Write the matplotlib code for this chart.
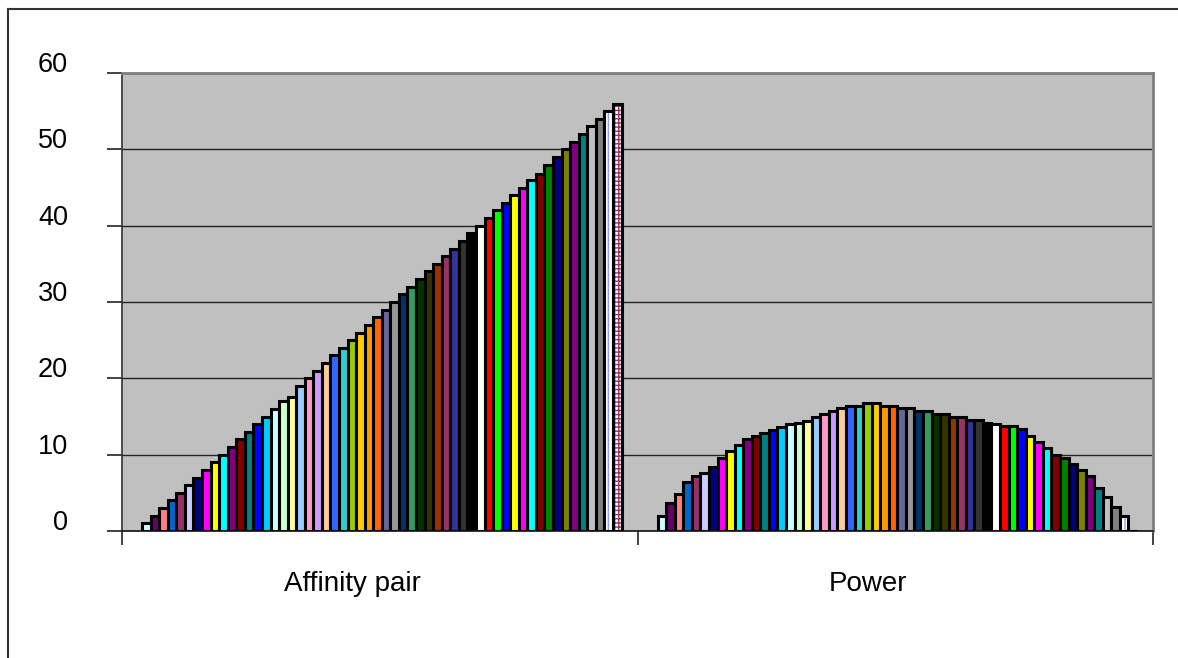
import matplotlib.pyplot as plt
import matplotlib.transforms as mtransforms
from matplotlib.lines import Line2D

plt.rcParams['font.family'] = ['Liberation Sans', 'DejaVu Sans']

# categories on the x axis
categories = ['Affinity pair', 'Power']

# one value per series for each category (56 series)
affinity_pair = [1, 2, 3, 4, 5, 6, 7, 8, 9, 10,
                 11, 12, 13, 14, 15, 16, 17, 17.5, 19, 20,
                 21, 22, 23, 24, 25, 26, 27, 28, 29, 30,
                 31, 32, 33, 34, 35, 36, 37, 38, 39, 40,
                 41, 42, 43, 44, 45, 46, 46.8, 48, 49, 50,
                 51, 52, 53, 54, 55, 56]
power = [2.0, 3.7, 4.8, 6.4, 7.2, 7.6, 8.4, 9.6, 10.5, 11.3,
         12.0, 12.4, 12.8, 13.2, 13.6, 14.0, 14.1, 14.4, 14.9, 15.3,
         15.7, 16.1, 16.4, 16.4, 16.8, 16.8, 16.4, 16.4, 16.1, 16.1,
         15.7, 15.7, 15.3, 15.3, 14.9, 14.9, 14.5, 14.5, 14.1, 14.0,
         13.7, 13.7, 13.3, 12.4, 11.6, 10.9, 10.0, 9.6, 8.8, 8.0,
         7.2, 5.6, 4.4, 3.2, 2.0, 0.0]

# excel style series fills, last two are patterns (white + hatch colour)
series_colors = ['#CCFFFF', '#660066', '#FF8080', '#0066CC', '#993366', '#CCCCFF', '#000080',
                 '#FF00FF', '#FFFF00', '#00FFFF', '#800080', '#800000', '#008080', '#0000FF',
                 '#00CCFF', '#CCFFFF', '#CCFFCC', '#FFFF99', '#99CCFF', '#FF99CC', '#CC99FF',
                 '#FFCC99', '#3366FF', '#33CCCC', '#99CC00', '#FFCC00', '#FF9900', '#FF6600',
                 '#666699', '#969696', '#003366', '#339966', '#003300', '#333300', '#993300',
                 '#993366', '#333399', '#333333', '#000000', '#FFFFFF', '#FF0000', '#00FF00',
                 '#0000FF', '#FFFF00', '#FF00FF', '#00FFFF', '#800000', '#008000', '#000080',
                 '#808000', '#800080', '#008080', '#C0C0C0', '#808080', '#9999FF', '#993366']
pattern_hatch = {54: '|||', 55: '++++'}

fig = plt.figure(figsize=(11.78, 6.58), dpi=100)
ax = fig.add_axes([122 / 1178, 127 / 658, 1031 / 1178, 458 / 658])
ax.set_facecolor('#C0C0C0')

n = len(series_colors)
group_w = 0.93
w = group_w / n
xs = [1, 2]

for i in range(n):
    off = (i - (n - 1) / 2) * w + 0.004
    vals = [affinity_pair[i], power[i]]
    pos = [x + off for x in xs]
    if i in pattern_hatch:
        # white bar with coloured hatch, then black outline on top
        ax.bar(pos, vals, w, color='white', edgecolor=series_colors[i],
               hatch=pattern_hatch[i], linewidth=0, zorder=2)
        ax.bar(pos, vals, w, fill=False, edgecolor='black', linewidth=2.2, zorder=3)
    else:
        ax.bar(pos, vals, w, color=series_colors[i], edgecolor='black',
               linewidth=2.2, zorder=2)

ax.set_xlim(0.5, 2.5)
ax.set_ylim(0, 60)
ax.set_yticks(range(0, 61, 10))
ax.yaxis.grid(True, color='#222222', linewidth=1.0)
ax.set_axisbelow(True)

# category labels + boundary tick marks
ax.set_xticks(xs)
ax.set_xticklabels(categories, fontsize=20)
ax.set_xticks([0.5, 1.5, 2.5], minor=True)
ax.tick_params(axis='x', which='major', length=0, pad=29)
ax.tick_params(axis='x', which='minor', length=10, width=1.2, color='#222222')
ax.tick_params(axis='y', length=10.8, width=1.2, color='#222222', labelsize=19.5, pad=28)

# excel draws the value labels a bit above the gridlines,
# and the category labels a bit left of centre
shift = mtransforms.ScaledTranslation(0, 8 / 72, fig.dpi_scale_trans)
for lab in ax.get_yticklabels():
    lab.set_transform(lab.get_transform() + shift)
shift_x = mtransforms.ScaledTranslation(-19.5 / 72, 0, fig.dpi_scale_trans)
for lab in ax.get_xticklabels():
    lab.set_transform(lab.get_transform() + shift_x)

for side in ['top', 'right']:
    ax.spines[side].set_color('#808080')
    ax.spines[side].set_linewidth(2)
ax.spines['left'].set_color('#333333')
ax.spines['left'].set_linewidth(1.2)
ax.spines['bottom'].set_color('#111111')
ax.spines['bottom'].set_linewidth(1.2)

# chart area border (runs off the right and bottom edges)
fig.add_artist(Line2D([8 / 1178, 1.01], [1 - 9 / 658, 1 - 9 / 658],
                      color='#333333', linewidth=1.5, transform=fig.transFigure))
fig.add_artist(Line2D([8 / 1178, 8 / 1178], [-0.01, 1 - 9 / 658],
                      color='#333333', linewidth=1.5, transform=fig.transFigure))

fig.savefig('out.png', dpi=100)
